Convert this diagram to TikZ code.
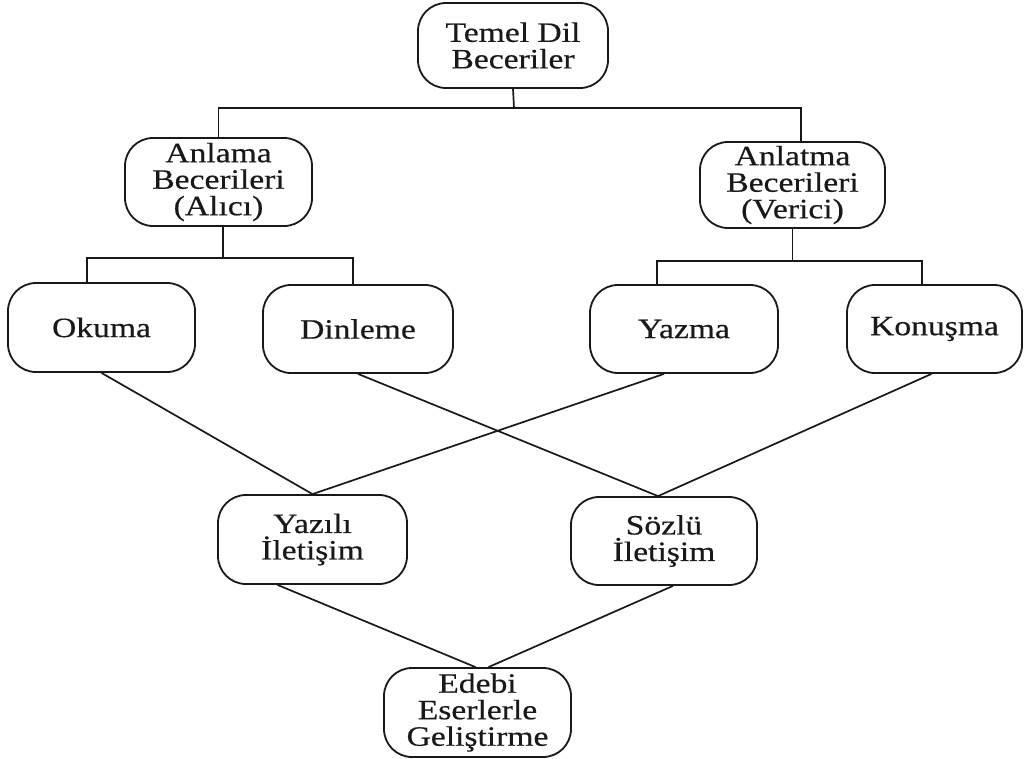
\documentclass[tikz,border=0pt]{standalone}
\usepackage{fontspec}
\setmainfont{Liberation Serif}[FakeStretch=1.2,FakeBold=0.4]
\begin{document}
\begin{tikzpicture}[x=1pt,y=-1pt,
  box/.style={draw=black!90, line width=1.8pt, rounded corners=28pt, align=center,
    inner sep=0pt, font=\fontsize{28}{26.5}\selectfont, text=black!90},
  conn/.style={draw=black!90, line width=1.7pt}]
\useasboundingbox[fill=white] (0,0) rectangle (1030,758);

\node[box, minimum width=190pt, minimum height=85pt] (temel) at (513,45.5) {Temel Dil\\Beceriler};
\node[box, minimum width=187pt, minimum height=88pt] (anlama) at (218.5,182) {Anlama\\Becerileri\\(Alıcı)};
\node[box, minimum width=185pt, minimum height=86pt] (anlatma) at (792.5,185) {Anlatma\\Becerileri\\(Verici)};
\node[box, minimum width=187pt, minimum height=89pt] (okuma) at (101.5,327.5) {Okuma};
\node[box, minimum width=190pt, minimum height=88pt] (dinleme) at (358,329) {Dinleme};
\node[box, minimum width=188pt, minimum height=88pt] (yazma) at (684,329) {Yazma};
\node[box, minimum width=175pt, minimum height=88pt] (konusma) at (934.5,329) {Konuşma};
\node[box, minimum width=189pt, minimum height=89pt] (yazili) at (312.5,539.5) {Yazılı\\İletişim};
\node[box, minimum width=186pt, minimum height=88pt] (sozlu) at (664,541) {Sözlü\\İletişim};
\node[box, minimum width=187pt, minimum height=89pt] (edebi) at (477.5,712.5) {Edebi\\Eserlerle\\Geliştirme};

% tree connectors
\coordinate (j1) at (514,108);
\draw[conn] (temel.south) -- (j1);
\draw[conn] (anlama.north) |- (j1) -| ([xshift=8.5pt]anlatma.north);

\coordinate (j2) at (223,258);
\draw[conn] ([xshift=4.5pt]anlama.south) -- (j2);
\draw[conn] ([xshift=-14.5pt]okuma.north) |- (j2) -| ([xshift=-5pt]dinleme.north);

\coordinate (j3) at (792.5,261);
\draw[conn] (anlatma.south) -- (j3);
\draw[conn] ([xshift=-27pt]yazma.north) |- (j3) -| ([xshift=-12.5pt]konusma.north);

% cross connectors
\draw[conn] (okuma.south) -- (yazili.north);
\draw[conn] ([xshift=-20pt]yazma.south) -- (yazili.north);
\draw[conn] (dinleme.south) -- ([xshift=-6pt]sozlu.north);
\draw[conn] ([xshift=-3pt]konusma.south) -- ([xshift=-6pt]sozlu.north);
\draw[conn] ([xshift=-35pt]yazili.south) -- ([xshift=-2pt]edebi.north);
\draw[conn] ([xshift=9pt]sozlu.south) -- ([xshift=11pt]edebi.north);
\end{tikzpicture}
\end{document}
